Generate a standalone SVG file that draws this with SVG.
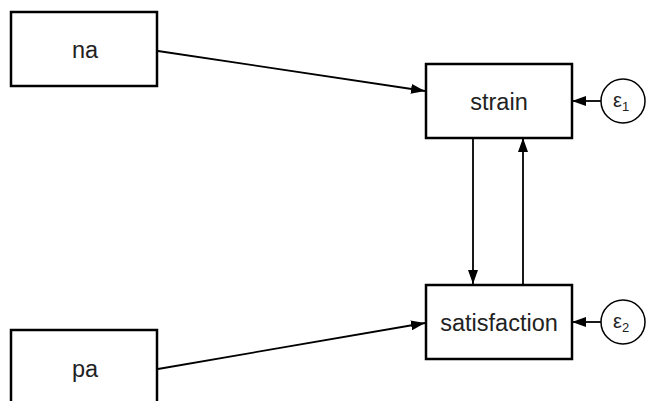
<svg xmlns="http://www.w3.org/2000/svg" width="648" height="401" viewBox="0 0 648 401">
<defs>
<marker id="ah" viewBox="0 0 14 10" refX="14" refY="5" markerWidth="14" markerHeight="10" markerUnits="userSpaceOnUse" orient="auto">
<path d="M0,0 L14,5 L0,10 Z" fill="#000"/>
</marker>
</defs>
<style>
.box{fill:#fff;stroke:#000;stroke-width:2.5}
.circ{fill:#fff;stroke:#000;stroke-width:1.5}
.lbl{font-family:"Liberation Sans",Arial,sans-serif;font-size:23.5px;fill:#222;text-anchor:middle}
.eps{font-family:"Liberation Sans",Arial,sans-serif;font-size:20px;fill:#222}
.sub{font-size:13px}
.con{stroke:#000;stroke-width:1.8;fill:none;marker-end:url(#ah)}
</style>
<rect width="648" height="401" fill="#fff"/>
<g id="connectors">
<line class="con" x1="158" y1="51" x2="425" y2="91"/>
<line class="con" x1="158" y1="369" x2="425" y2="323"/>
<line class="con" x1="473" y1="138" x2="473" y2="284"/>
<line class="con" x1="523" y1="284" x2="523" y2="138"/>
<line class="con" x1="601" y1="101" x2="572" y2="101"/>
<line class="con" x1="601" y1="322" x2="572" y2="322"/>
</g>
<g id="na">
<rect class="box" x="11" y="12" width="146" height="74"/>
<text class="lbl" x="85" y="58">na</text>
</g>
<g id="pa">
<rect class="box" x="11" y="330" width="146" height="80"/>
<text class="lbl" x="85" y="377">pa</text>
</g>
<g id="strain">
<rect class="box" x="426" y="64" width="146" height="74"/>
<text class="lbl" x="499" y="110">strain</text>
</g>
<g id="satisfaction">
<rect class="box" x="426" y="285" width="146" height="74"/>
<text class="lbl" x="499" y="331">satisfaction</text>
</g>
<g id="e1">
<circle class="circ" cx="623" cy="101" r="22"/>
<text class="eps" x="613" y="107">ε<tspan class="sub" dy="4">1</tspan></text>
</g>
<g id="e2">
<circle class="circ" cx="623" cy="322" r="22"/>
<text class="eps" x="613" y="328">ε<tspan class="sub" dy="4">2</tspan></text>
</g>
</svg>
